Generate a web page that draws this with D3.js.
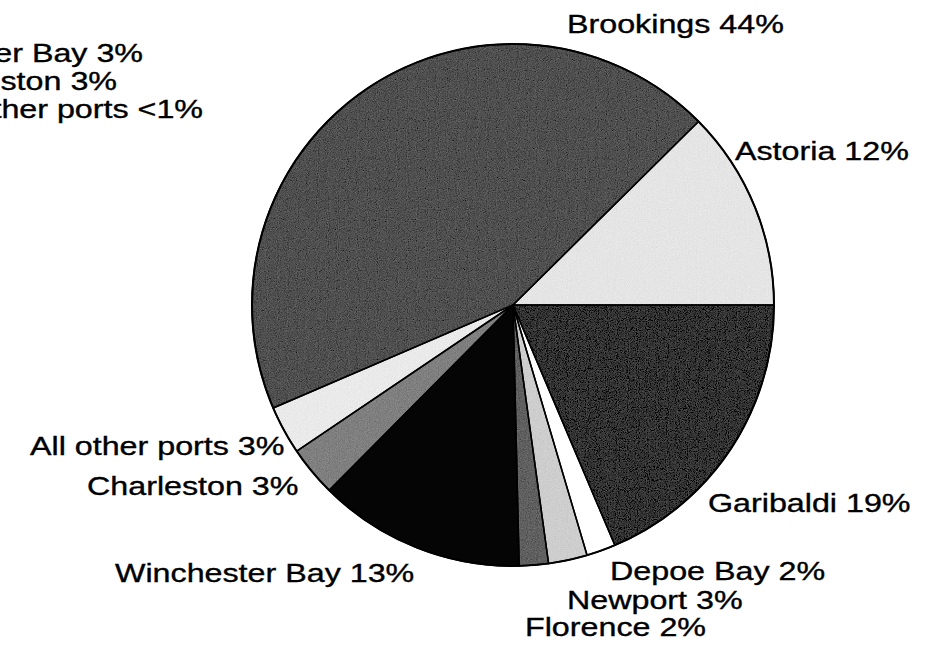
<!DOCTYPE html>
<html lang="en">
<head>
<meta charset="UTF-8">
<title>Ports pie</title>
<script src="https://d3js.org/d3.v7.min.js"></script>
<style>
  body { margin: 0; background: #fff; }
  text { font-family: "Liberation Sans", Arial, sans-serif; fill: #000; stroke: #000; stroke-width: 0.35px; }
</style>
</head>
<body>
<div id="chart"></div>
<script>
// data, clockwise from 3 o'clock (slice sizes as drawn, printed labels as shown)
var ports = ["Garibaldi", "Depoe Bay", "Newport", "Florence", "Winchester Bay",
             "Charleston", "All other ports", "Brookings", "Astoria"];
var shares = [18.6, 1.8, 2.4, 1.8, 12.8, 3.1, 3.0, 44.0, 12.4];
var shareLabels = ["19%", "2%", "3%", "2%", "13%", "3%", "3%", "44%", "12%"];

// leftover labels from a neighbouring chart, cut at the page edge
var cutLabels = ["Winchester Bay 3%", "Charleston 3%", "All other ports <1%"];

var fills = ["#2f2f2f", "#ffffff", "#cdcdcd", "#5e5e5e", "#050505",
             "#7e7e7e", "#e9e9e9", "#4d4d4d", "#e4e4e4"];
var grainy = [true, false, true, true, false, true, true, true, true];

// label placement: left x, baseline y
var labelPos = {
  "Garibaldi": [708, 512],
  "Depoe Bay": [610, 580],
  "Newport": [567, 609],
  "Florence": [525, 636],
  "Winchester Bay": [115, 582],
  "Charleston": [87, 495],
  "All other ports": [30, 455],
  "Brookings": [567, 33],
  "Astoria": [735, 160]
};

var W = 925, H = 645, cx = 513, cy = 305, R = 261;
var stretch = 1.29, fontSize = 25;

var svg = d3.select("#chart").append("svg")
  .attr("width", W).attr("height", H);

// scanned-paper grain
var f = svg.append("defs").append("filter").attr("id", "grain")
  .attr("x", 0).attr("y", 0).attr("width", 1).attr("height", 1);
f.append("feTurbulence").attr("type", "fractalNoise")
  .attr("baseFrequency", 1.1).attr("numOctaves", 1).attr("seed", 3).attr("result", "noise");
f.append("feColorMatrix").attr("in", "noise").attr("type", "matrix")
  .attr("values", "0.33 0.33 0.33 0 0  0.33 0.33 0.33 0 0  0.33 0.33 0.33 0 0  0 0 0 0 1")
  .attr("result", "gray");
f.append("feComposite").attr("in", "SourceGraphic").attr("in2", "gray")
  .attr("operator", "arithmetic").attr("k1", 0).attr("k2", 1).attr("k3", 0.35).attr("k4", -0.17)
  .attr("result", "mix");
f.append("feComposite").attr("in", "mix").attr("in2", "SourceGraphic").attr("operator", "in");

var pie = d3.pie().sort(null)
  .startAngle(Math.PI / 2).endAngle(Math.PI / 2 + 2 * Math.PI);
var arc = d3.arc().innerRadius(0).outerRadius(R);

var g = svg.append("g").attr("transform", "translate(" + cx + "," + cy + ")");

g.selectAll("path")
  .data(pie(shares))
  .enter().append("path")
    .attr("d", arc)
    .attr("fill", function(d, i) { return fills[i]; })
    .attr("filter", function(d, i) { return grainy[i] ? "url(#grain)" : null; });

// slice borders on top
g.selectAll("path.edge")
  .data(pie(shares))
  .enter().append("path")
    .attr("class", "edge")
    .attr("d", arc)
    .attr("fill", "none")
    .attr("stroke", "#000")
    .attr("stroke-width", 1.5)
    .attr("stroke-linejoin", "round");

// outer rim
g.append("circle").attr("r", R)
  .attr("fill", "none").attr("stroke", "#000").attr("stroke-width", 2);

// slice labels
ports.forEach(function(p, i) {
  var pos = labelPos[p];
  svg.append("text")
    .attr("transform", "translate(" + pos[0] + "," + pos[1] + ") scale(" + stretch + ",1)")
    .style("font-size", fontSize + "px")
    .text(p + " " + shareLabels[i]);
});

// cut-off labels at top left, right aligned
var cutEnds = [143, 117, 203];
cutLabels.forEach(function(t, i) {
  svg.append("text")
    .attr("transform", "translate(" + cutEnds[i] + "," + (62 + i * 28) + ") scale(" + stretch + ",1)")
    .attr("text-anchor", "end")
    .style("font-size", fontSize + "px")
    .text(t);
});
</script>
</body>
</html>
